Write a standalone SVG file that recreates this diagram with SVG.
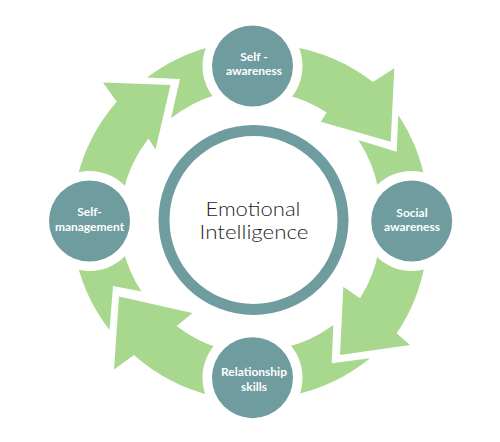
<svg xmlns="http://www.w3.org/2000/svg" width="500" height="442" viewBox="0 0 500 442">
<style>
.arrow{fill:#a8d88d;stroke:none}
.halo{fill:#ffffff}
.node{fill:#6f9c9e}
.lbl{font-family:Lato,"Liberation Sans",sans-serif;font-weight:700;font-size:12px;fill:#ffffff;text-anchor:middle}
.core{fill:none;stroke:#6f9c9e;stroke-width:11}
.title{font-family:Lato,"Liberation Sans",sans-serif;font-weight:300;font-size:19px;fill:#1e1e1e;text-anchor:middle}
</style>
<rect width="500" height="442" fill="#ffffff"/>
<g id="connectors">
  <path class="arrow" d="M290.4,46.4 A180 180 0 0 1 373,82 L394.3,68.3 L390.7,141.7 L320.7,121.7 L326.7,112.5 A131 131 0 0 0 284.7,94.4 L252,66 Z"/>
  <path class="arrow" d="M398.3,115 A180 180 0 0 1 425,179 L412,221 L378.8,192.2 A131 131 0 0 0 358.3,140 L396.7,151.7 Z"/>
  <path class="arrow" d="M425,263 A180 180 0 0 1 396.7,333.3 L410,345 L340,355 L343.3,286.7 L360,298.3 A131 131 0 0 0 378.8,249.8 L412,221 Z"/>
  <path class="arrow" d="M370,358.3 A180 180 0 0 1 290.9,395.5 L252,377 L283.9,347.8 A131 131 0 0 0 333.3,325 L331.7,363.3 Z"/>
  <path class="arrow" d="M211.1,395.5 A180 180 0 0 1 134,355 L114,369.5 L119,296.5 L192.5,313 L176.7,326 A131 131 0 0 0 218.1,347.8 L252,377 Z"/>
  <path class="arrow" d="M109.5,330 A180 180 0 0 1 77,263 L90,221 L123.2,249.8 A131 131 0 0 0 141.5,291.5 L113,286 Z"/>
  <path class="arrow" d="M77,179 A180 180 0 0 1 116.7,101.7 L103,82.5 L170.5,85 L155.5,149.5 L148.5,138.5 A131 131 0 0 0 123.2,192.2 L90,221 Z"/>
  <path class="arrow" d="M147,77.5 A180 180 0 0 1 211.6,46.4 L252,66 L217.3,94.4 A131 131 0 0 0 171,118.3 L180,79 Z"/>
</g>
<g id="emotional-intelligence">
  <circle class="core" cx="253.5" cy="220" r="89.5"/>
  <text class="title" x="253" y="216" textLength="95" lengthAdjust="spacingAndGlyphs">Emotional</text>
  <text class="title" x="254" y="239" textLength="109" lengthAdjust="spacingAndGlyphs">Intelligence</text>
</g>
<g id="self-awareness">
  <circle class="halo" cx="252.5" cy="66" r="50"/>
  <circle class="node" cx="252.5" cy="66" r="40.5"/>
  <text class="lbl" x="254" y="60.8">Self -</text>
  <text class="lbl" x="254" y="75.3">awareness</text>
</g>
<g id="social-awareness">
  <circle class="halo" cx="411.7" cy="221" r="50"/>
  <circle class="node" cx="411.7" cy="221" r="40.5"/>
  <text class="lbl" x="412" y="216.6">Social</text>
  <text class="lbl" x="412" y="231.1">awareness</text>
</g>
<g id="relationship-skills">
  <circle class="halo" cx="252.5" cy="377.7" r="50"/>
  <circle class="node" cx="252.5" cy="377.7" r="40.5"/>
  <text class="lbl" x="254" y="376.3">Relationship</text>
  <text class="lbl" x="254" y="390.8">skills</text>
</g>
<g id="self-management">
  <circle class="halo" cx="89.5" cy="221" r="50"/>
  <circle class="node" cx="89.5" cy="221" r="40.5"/>
  <text class="lbl" x="89.5" y="216.1">Self-</text>
  <text class="lbl" x="89.5" y="230.6">management</text>
</g>
</svg>
